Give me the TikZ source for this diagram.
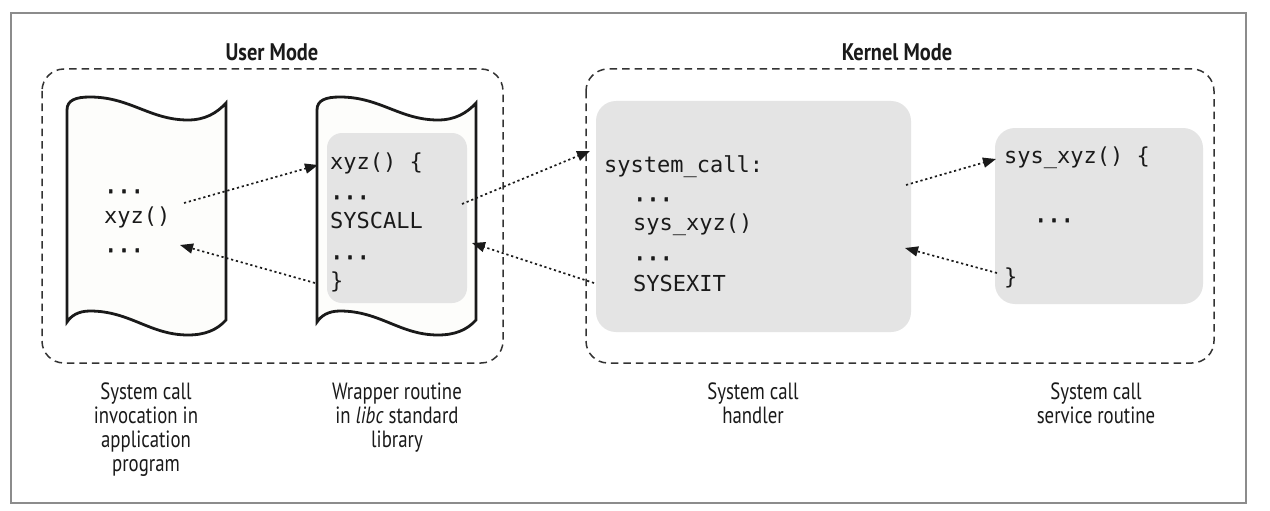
\documentclass[tikz,border=0pt]{standalone}
\usepackage{fontspec}
\setmainfont{PT Sans}
\newfontfamily\capfont[FakeStretch=0.8]{PT Sans}
\newfontfamily\ttlfont[FakeStretch=0.85]{PT Sans}
\newfontfamily\codefont{DejaVu Sans Mono}
\newfontfamily\dotfont[FakeBold=2.5]{DejaVu Sans Mono}
\usetikzlibrary{arrows.meta}
\definecolor{framegray}{HTML}{8C8C8C}
\definecolor{dashgray}{HTML}{333333}
\definecolor{boxgray}{HTML}{E4E4E4}
\definecolor{paper}{HTML}{FDFDFB}
\definecolor{ink}{HTML}{1A1A1A}
\tikzset{
  frame/.style={draw=framegray, line width=1.8pt},
  modebox/.style={draw=dashgray, line width=1.5pt, dash pattern=on 7.5pt off 5pt, rounded corners=22pt},
  docpage/.style={draw=ink, fill=paper, line width=2.8pt},
  codebox/.style={fill=boxgray},
  code/.style={font=\codefont\fontsize{22}{26}\selectfont, anchor=base west, inner sep=0pt, text=ink},
  dots/.style={font=\dotfont\fontsize{22}{26}\selectfont, anchor=base west, inner sep=0pt, text=ink},
  ttl/.style={font=\ttlfont\bfseries\fontsize{24}{26}\selectfont, anchor=base, inner sep=0pt, text=ink},
  captxt/.style={font=\capfont\fontsize{23.5}{24}\selectfont, anchor=base, inner sep=0pt, text=ink},
  conn/.style={draw=ink, line width=1.7pt, dash pattern=on 2.2pt off 2.8pt,
    -{Triangle[length=13pt,width=10pt]}},
}
\newcommand\docpath{(67,322) -- (67,110) .. controls (67,100) and (76,97) .. (90,97)
  .. controls (130,97) and (150,120) .. (188,120) .. controls (205,120) and (217,113) .. (226,103)
  -- (226,320) .. controls (217,330) and (205,335) .. (188,335)
  .. controls (150,335) and (130,311) .. (90,311) .. controls (78,311) and (71,316) .. (67,322) -- cycle}
\begin{document}
\begin{tikzpicture}[x=1pt,y=-1pt]
\useasboundingbox (0,0) rectangle (1270,511);
\fill[white] (0,0) rectangle (1270,511);
\draw[frame] (11,13) rectangle (1246,503);

% mode containers
\draw[modebox] (42,69) rectangle (503,363);
\draw[modebox] (586,69) rectangle (1214,363);
\node[ttl] (um) at (272,61) {User Mode};
\node[ttl] (km) at (897,61) {Kernel Mode};

% documents
\path[docpage] \docpath;
\begin{scope}[shift={(250,0)}]
\path[docpage] \docpath;
\end{scope}

% gray code boxes
\fill[codebox, rounded corners=15pt] (327,133) rectangle (467,303);
\fill[codebox, rounded corners=20pt] (596,101) rectangle (911,332);
\fill[codebox, rounded corners=20pt] (995,128) rectangle (1203,304);

% left document code
\node[dots] (p1) at (104,193) {...};
\node[code] (p2) at (104,223) {xyz()};
\node[dots] (p3) at (104,252) {...};

% wrapper code
\node[code] (w1) at (330,169) {xyz() \{};
\node[dots] (w2) at (330,199) {...};
\node[code] (w3) at (330,228) {SYSCALL};
\node[dots] (w4) at (330,259) {...};
\node[code] (w5) at (330,288) {\}};

% handler code
\node[code] (h1) at (604,172) {system\_call:};
\node[dots] (h2) at (633,201) {...};
\node[code] (h3) at (633,230) {sys\_xyz()};
\node[dots] (h4) at (633,260) {...};
\node[code] (h5) at (633,291) {SYSEXIT};

% service routine code
\node[code] (s1) at (1004,163) {sys\_xyz() \{};
\node[dots] (s2) at (1034,222) {...};
\node[code] (s3) at (1004,284) {\}};

% connector end points
\coordinate (a1s) at (184,203);
\coordinate (a1e) at (318,165);
\coordinate (a2s) at (315,283);
\coordinate (a2e) at (180,245);
\coordinate (a3s) at (462,204);
\coordinate (a3e) at (590,151);
\coordinate (a4s) at (594,283);
\coordinate (a4e) at (472,243);
\coordinate (a5s) at (906,185);
\coordinate (a5e) at (996,159);
\coordinate (a6s) at (997,273);
\coordinate (a6e) at (905,248);
\draw[conn] (a1s) -- (a1e);
\draw[conn] (a2s) -- (a2e);
\draw[conn] (a3s) -- (a3e);
\draw[conn] (a4s) -- (a4e);
\draw[conn] (a5s) -- (a5e);
\draw[conn] (a6s) -- (a6e);

% captions
\node[captxt] (c1a) at (146,399) {System call};
\node[captxt] (c1b) at (146,423) {invocation in};
\node[captxt] (c1c) at (146,447) {application};
\node[captxt] (c1d) at (146,471) {program};
\node[captxt] (c2a) at (397,399) {Wrapper routine};
\node[captxt] (c2b) at (397,423) {in \textit{libc} standard};
\node[captxt] (c2c) at (397,447) {library};
\node[captxt] (c3a) at (753,399) {System call};
\node[captxt] (c3b) at (753,423) {handler};
\node[captxt] (c4a) at (1096,399) {System call};
\node[captxt] (c4b) at (1096,423) {service routine};
\end{tikzpicture}
\end{document}
